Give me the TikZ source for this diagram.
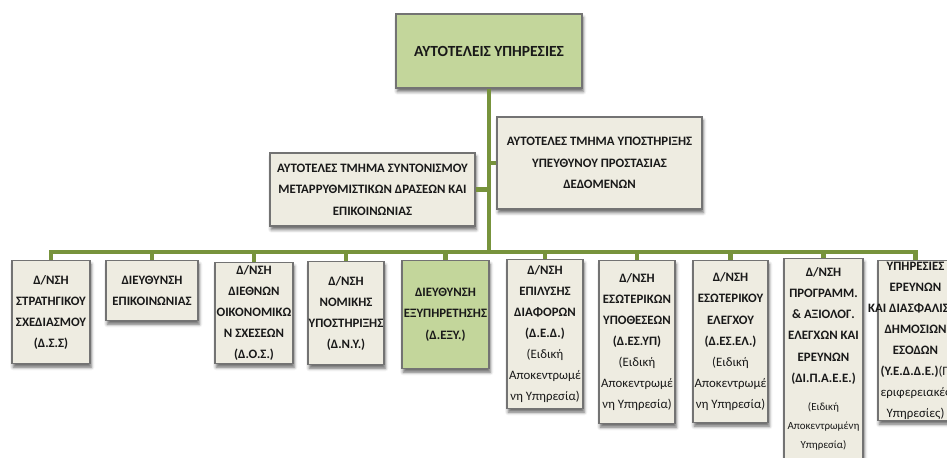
\documentclass[tikz,border=0pt]{standalone}
\usepackage{fontspec}
\setmainfont{Carlito}
\usepackage{tikz}
\usetikzlibrary{shadows.blur}
\definecolor{trunkgreen}{RGB}{119,147,60}
\definecolor{paleolive}{RGB}{195,214,155}
\definecolor{paletan}{RGB}{238,236,225}
\newcommand{\lite}[1]{{\mdseries #1}}
\newcommand{\fine}[1]{{\mdseries\fontsize{6.2}{10}\selectfont #1}}
\newcommand{\overhang}[1]{\makebox[0pt]{#1}}
\tikzset{unit/.style={draw=black!55, line width=.8pt, fill=paletan, align=center,
    inner sep=0pt, text=black!90, font=\bfseries\fontsize{7.3}{12}\selectfont,
    blur shadow={shadow xshift=.7pt, shadow yshift=-2pt,
      shadow blur radius=1.8pt, shadow opacity=60}}}
\tikzset{link/.style={draw=trunkgreen, line width=2.3pt}}
\tikzset{dim/.style 2 args={minimum width=#1cm, minimum height=#2cm}}

\begin{document}
\begin{tikzpicture}[x=0.02cm, y=-0.02cm]
  \useasboundingbox (0,0) rectangle (947,457);
  \clip (0,0) rectangle (947,457);
  % head and the two staff units
  \node[unit, fill=paleolive, dim={3.72}{1.48},
    font=\bfseries\fontsize{8.8}{12}\selectfont] (top) at (489,51)
    {ΑΥΤΟΤΕΛΕΙΣ ΥΠΗΡΕΣΙΕΣ};
  \node[unit, dim={4.1}{1.46}, font=\bfseries\fontsize{7.3}{12.3}\selectfont]
    (staffL) at (372.5,189.5)
    {ΑΥΤΟΤΕΛΕΣ ΤΜΗΜΑ ΣΥΝΤΟΝΙΣΜΟΥ\\ΜΕΤΑΡΡΥΘΜΙΣΤΙΚΩΝ ΔΡΑΣΕΩΝ ΚΑΙ\\ΕΠΙΚΟΙΝΩΝΙΑΣ};
  \node[unit, dim={4.1}{1.84}, font=\bfseries\fontsize{7.3}{12.3}\selectfont]
    (staffR) at (599.5,163)
    {ΑΥΤΟΤΕΛΕΣ ΤΜΗΜΑ ΥΠΟΣΤΗΡΙΞΗΣ\\ΥΠΕΥΘΥΝΟΥ ΠΡΟΣΤΑΣΙΑΣ\\ΔΕΔΟΜΕΝΩΝ};
  \coordinate (bus) at (0,252);
  % directorates
  \node[unit, anchor=north, dim={1.56}{2.06}] (d1) at (51,260)
    {Δ/ΝΣΗ\\ΣΤΡΑΤΗΓΙΚΟΥ\\ΣΧΕΔΙΑΣΜΟΥ\\(Δ.Σ.Σ)};
  \node[unit, anchor=north, dim={1.84}{1.2}] (d2) at (152,260)
    {ΔΙΕΥΘΥΝΣΗ\\ΕΠΙΚΟΙΝΩΝΙΑΣ};
  \node[unit, anchor=north, dim={1.56}{2.02}] (d3) at (254,262)
    {Δ/ΝΣΗ\\ΔΙΕΘΝΩΝ\\\overhang{ΟΙΚΟΝΟΜΙΚΩ}\\Ν ΣΧΕΣΕΩΝ\\(Δ.Ο.Σ.)};
  \node[unit, anchor=north, dim={1.52}{2.06}] (d4) at (346,261)
    {Δ/ΝΣΗ\\ΝΟΜΙΚΗΣ\\\overhang{ΥΠΟΣΤΗΡΙΞΗΣ}\\(Δ.Ν.Υ.)};
  \node[unit, anchor=north, fill=paleolive, dim={1.74}{2.16}] (d5) at (445.5,260)
    {ΔΙΕΥΘΥΝΣΗ\\ΕΞΥΠΗΡΕΤΗΣΗΣ\\(Δ.ΕΞΥ.)};
  \node[unit, anchor=north, dim={1.52}{2.98}] (d6) at (545,259)
    {Δ/ΝΣΗ\\ΕΠΙΛΥΣΗΣ\\ΔΙΑΦΟΡΩΝ\\(Δ.Ε.Δ.)\\\lite{(Ειδική}\\\lite{Αποκεντρωμέ}\\\lite{νη Υπηρεσία)}};
  \node[unit, anchor=north, dim={1.52}{3.26}] (d7) at (637,260)
    {Δ/ΝΣΗ\\ΕΣΩΤΕΡΙΚΩΝ\\ΥΠΟΘΕΣΕΩΝ\\(Δ.ΕΣ.ΥΠ)\\\lite{(Ειδική}\\\lite{Αποκεντρωμέ}\\\lite{νη Υπηρεσία)}};
  \node[unit, anchor=north, dim={1.5}{3.24}] (d8) at (730.5,260)
    {Δ/ΝΣΗ\\ΕΣΩΤΕΡΙΚΟΥ\\ΕΛΕΓΧΟΥ\\(Δ.ΕΣ.ΕΛ.)\\\lite{(Ειδική}\\\lite{Αποκεντρωμέ}\\\lite{νη Υπηρεσία)}};
  \node[unit, anchor=north, dim={1.58}{4.02}] (d9) at (823.5,258)
    {Δ/ΝΣΗ\\ΠΡΟΓΡΑΜΜ.\\\& ΑΞΙΟΛΟΓ.\\ΕΛΕΓΧΩΝ ΚΑΙ\\ΕΡΕΥΝΩΝ\\(ΔΙ.Π.Α.Ε.Ε.)\\[4pt]
     \fine{(Ειδική}\\[-1pt]\fine{\overhang{Αποκεντρωμένη}}\\[-1pt]\fine{Υπηρεσία)}};
  \node[unit, anchor=north, dim={1.5}{3.2}] (d10) at (915.5,260)
    {ΥΠΗΡΕΣΙΕΣ\\ΕΡΕΥΝΩΝ\\\overhang{ΚΑΙ ΔΙΑΣΦΑΛΙΣΗΣ}\\ΔΗΜΟΣΙΩΝ\\ΕΣΟΔΩΝ\\
     \overhang{(Υ.Ε.Δ.Δ.Ε.)\lite{(Π}}\\\lite{\overhang{εριφερειακές}}\\\lite{Υπηρεσίες)}};
  % green connectors
  \draw[link] (top.south) -- (top.south |- bus);
  \draw[link] (staffL.east) -- (staffL.east -| top.south);
  \draw[link] (staffR.west) -- (staffR.west -| top.south);
  \draw[link] (d1.north) |- (d10.north |- bus) -- (d10.north);
  \foreach \n in {2,...,9}
    \draw[link] (d\n.north) -- (d\n.north |- bus);
\end{tikzpicture}
\end{document}
